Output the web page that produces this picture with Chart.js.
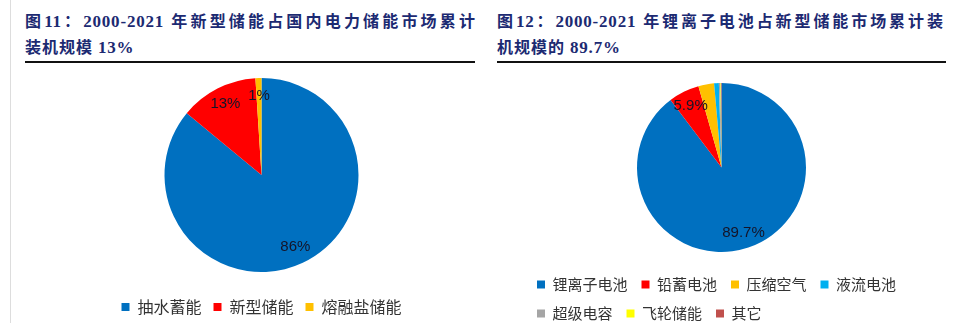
<!DOCTYPE html>
<html>
<head>
<meta charset="utf-8">
<script src="https://cdn.jsdelivr.net/npm/chart.js@4"></script>
<style>
  html, body { margin: 0; padding: 0; background: #fff; overflow: hidden; }
  body { width: 958px; height: 323px; position: relative; }
  .title {
    position: absolute;
    color: #1c2a72;
    font-family: "Liberation Serif", "Noto Sans CJK SC", serif;
    font-weight: bold;
    font-size: 16px;
    letter-spacing: 1px;
  }
  .title .l1 { height: 26px; line-height: 26px; text-align: justify; text-align-last: justify; }
  .title .l2 { height: 26px; line-height: 26px; }
  .title .num { font-size: 17px; letter-spacing: 0.8px; }
  .rule { position: absolute; top: 61px; height: 2px; background: #111; }
  .edge { position: absolute; left: 10px; top: 0; width: 1px; height: 323px; background: #ddd; }
  .box { position: absolute; }
</style>
</head>
<body>
<div class="edge"></div>
<div class="title" style="left:25px; top:9px; width:451px;">
  <div class="l1">图<span class="num">11</span>：<span class="num">2000-2021</span> 年新型储能占国内电力储能市场累计</div>
  <div class="l2">装机规模 <span class="num">13%</span></div>
</div>
<div class="rule" style="left:25px; width:450px;"></div>

<div class="title" style="left:497px; top:9px; width:447px;">
  <div class="l1">图<span class="num">12</span>：<span class="num">2000-2021</span> 年锂离子电池占新型储能市场累计装</div>
  <div class="l2">机规模的 <span class="num">89.7%</span></div>
</div>
<div class="rule" style="left:497px; width:449px;"></div>

<div class="box" style="left:0px; top:50px; width:480px; height:275px;"><canvas id="leftChart"></canvas></div>
<div class="box" style="left:480px; top:64px; width:478px; height:267px;"><canvas id="rightChart"></canvas></div>

<script>
// Left pie: share of cumulative installed storage capacity (%)
const leftCategories = ["抽水蓄能", "新型储能", "熔融盐储能"];
const leftValues = [86, 13, 1];
const leftColors = ["#0070C0", "#FF0000", "#FFC000"];

// Right pie: share within new-type storage (%)
const rightCategories = ["锂离子电池", "铅蓄电池", "压缩空气", "液流电池", "超级电容", "飞轮储能", "其它"];
const rightValues = [89.7, 5.9, 3.0, 0.9, 0.3, 0.1, 0.1];
const rightColors = ["#0070C0", "#FF0000", "#FFC000", "#00B0F0", "#A5A5A5", "#FFFF00", "#C0504D"];

// draws "xx%" inside the slices, at ~82% of the radius
const sliceLabels = (minValue) => ({
  id: "slice-labels",
  afterDatasetsDraw(chart) {
    const { ctx } = chart;
    const meta = chart.getDatasetMeta(0);
    const data = chart.data.datasets[0].data;
    ctx.save();
    ctx.font = "15px 'Liberation Sans'";
    ctx.fillStyle = "#141428";
    ctx.textAlign = "center";
    ctx.textBaseline = "middle";
    meta.data.forEach((arc, i) => {
      if (data[i] < minValue) return;
      const { x, y, startAngle, endAngle, outerRadius } = arc.getProps(
        ["x", "y", "startAngle", "endAngle", "outerRadius"], true);
      const mid = (startAngle + endAngle) / 2;
      const r = outerRadius * 0.82;
      ctx.fillText(`${data[i]}%`, x + Math.cos(mid) * r, y + Math.sin(mid) * r);
    });
    ctx.restore();
  },
});

const legendOpts = (align, size, padding) => ({
  position: "bottom",
  align: align,
  labels: {
    boxWidth: 8,
    boxHeight: 8,
    padding: padding,
    color: "#333",
    font: { size: size, family: "'Noto Sans CJK SC'" },
  },
});

new Chart(document.getElementById("leftChart").getContext("2d"), {
  type: "pie",
  data: {
    labels: leftCategories,
    datasets: [
      {
        data: leftValues,
        backgroundColor: leftColors,
        borderWidth: 0,
        radius: 97,
      },
    ],
  },
  options: {
    responsive: true,
    maintainAspectRatio: false,
    animation: false,
    layout: { padding: { left: 43, right: 0, top: 13, bottom: 0 } },
    plugins: {
      legend: legendOpts("center", 16, 12),
      tooltip: { enabled: false },
    },
  },
  plugins: [sliceLabels(1)],
});

new Chart(document.getElementById("rightChart").getContext("2d"), {
  type: "pie",
  data: {
    labels: rightCategories,
    datasets: [
      {
        data: rightValues,
        backgroundColor: rightColors,
        borderWidth: 0,
        radius: 84.5,
      },
    ],
  },
  options: {
    responsive: true,
    maintainAspectRatio: false,
    animation: false,
    layout: { padding: { left: 43, right: 38, top: 8, bottom: 0 } },
    plugins: {
      legend: legendOpts("start", 15, 14),
      tooltip: { enabled: false },
    },
  },
  plugins: [sliceLabels(5)],
});
</script>
</body>
</html>
